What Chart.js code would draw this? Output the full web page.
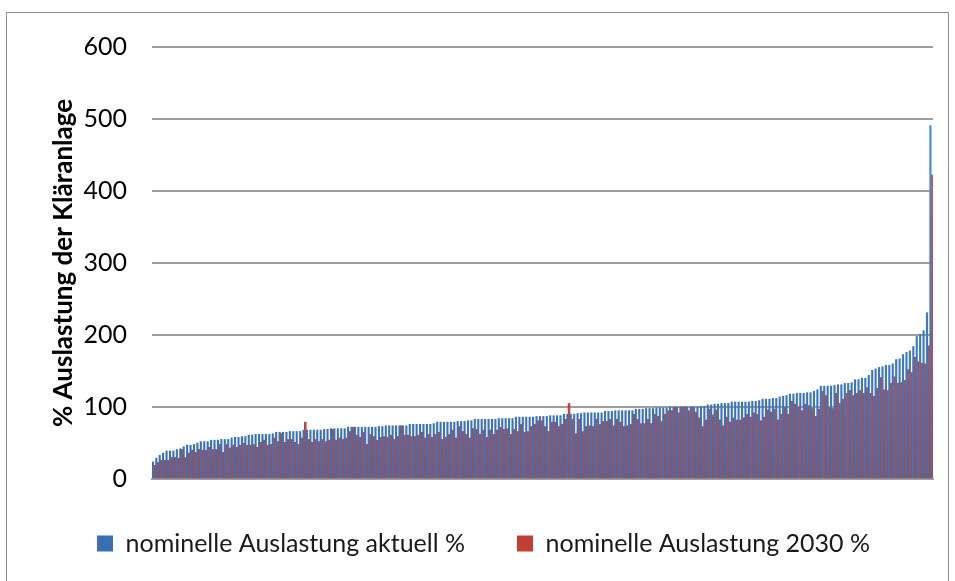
<!DOCTYPE html>
<html>
<head>
<meta charset="utf-8">
<title>Auslastung der Kläranlagen</title>
<script src="https://cdn.jsdelivr.net/npm/chart.js@4.4.1/dist/chart.umd.min.js"></script>
<style>
  html, body { margin: 0; padding: 0; background: #ffffff; }
  #wrap { width: 955px; height: 581px; }
</style>
</head>
<body>
<div id="wrap"><canvas id="auslastung" width="955" height="581"></canvas></div>
<script>
// nominelle Auslastung je Kläranlage, aufsteigend nach aktueller Auslastung sortiert
var auslastungAktuell = [
  24, 29, 33, 36, 39, 39, 39, 41, 42, 45, 47, 47, 48, 50, 52, 52, 52, 54, 54, 54,
  55, 55, 55, 57, 58, 58, 59, 59, 61, 61, 62, 62, 62, 62, 62, 63, 65, 65,
  65, 65, 66, 66, 66, 66, 68, 68, 68, 68, 68, 68, 69, 69, 70, 70, 70, 70, 70, 72,
  72, 72, 72, 72, 72, 72, 72, 72, 73, 73, 74, 74, 74, 74, 74, 74, 74, 76,
  76, 76, 76, 76, 76, 76, 77, 79, 79, 79, 79, 79, 79, 80, 80, 80, 81, 81, 83, 83,
  83, 83, 83, 83, 83, 84, 84, 84, 84, 84, 86, 86, 86, 86, 86, 86, 87,
  87, 87, 87, 88, 88, 88, 88, 90, 90, 90, 90, 91, 91, 92, 92, 92, 92, 92, 92, 94,
  94, 94, 95, 95, 95, 95, 95, 95, 97, 97, 97, 98, 98, 98, 99, 99, 99, 99,
  100, 100, 100, 100, 100, 100, 100, 100, 100, 101, 101, 103, 103, 104, 104, 105, 105, 105, 107, 107,
  107, 107, 107, 107, 108, 108, 109, 111, 111, 111, 112, 112, 114, 115, 116, 118, 118, 119,
  119, 119, 120, 120, 122, 124, 129, 129, 129, 129, 130, 131, 131, 133, 133, 134, 138, 138, 140, 140,
  144, 151, 153, 155, 156, 158, 158, 160, 166, 167, 173, 176, 178, 184, 198, 201, 206, 231, 491
];

var auslastung2030 = [
  19, 23, 26, 26, 26, 30, 30, 29, 41, 30, 36, 40, 37, 41, 40, 40, 44, 41, 41, 48,
  37, 48, 43, 47, 44, 47, 50, 47, 47, 48, 44, 51, 54, 47, 48, 57, 52, 63,
  51, 55, 55, 51, 48, 57, 79, 55, 51, 55, 52, 55, 52, 54, 69, 54, 57, 55, 57, 66,
  72, 61, 58, 65, 48, 62, 59, 54, 58, 59, 58, 61, 55, 59, 74, 61, 61, 59,
  59, 61, 65, 57, 62, 58, 62, 65, 55, 58, 62, 68, 57, 73, 66, 62, 57, 70, 69, 62,
  68, 58, 68, 62, 68, 72, 69, 70, 62, 69, 66, 76, 65, 66, 73, 76, 81,
  81, 73, 66, 79, 79, 73, 76, 83, 105, 83, 63, 83, 66, 73, 74, 73, 83, 76, 80, 80,
  83, 74, 83, 79, 73, 74, 76, 90, 83, 77, 77, 83, 77, 90, 87, 80, 90, 95,
  95, 100, 92, 100, 100, 95, 100, 93, 85, 73, 82, 97, 89, 96, 82, 74, 86, 79, 85, 82,
  82, 85, 90, 86, 92, 90, 81, 86, 96, 93, 97, 82, 90, 100, 90, 108, 104, 100,
  95, 104, 102, 98, 87, 97, 122, 116, 100, 98, 119, 105, 111, 119, 123, 116, 119, 123, 119, 127,
  119, 115, 126, 141, 124, 123, 133, 142, 133, 134, 137, 152, 148, 169, 163, 161, 160, 185, 422
];

var anlagen = auslastungAktuell.map(function (v, i) { return 'KA ' + (i + 1); });

var yTicks = [0, 100, 200, 300, 400, 500, 600];

var serienNamen = ['nominelle Auslastung aktuell %', 'nominelle Auslastung 2030 %'];

Chart.defaults.font.family = 'Lato';
Chart.defaults.color = '#000000';

// senkrechter Verlauf wie bei den Office-Balken
function verlauf(oben, unten) {
  return function (context) {
    var area = context.chart.chartArea;
    if (!area) {
      return unten;
    }
    var g = context.chart.ctx.createLinearGradient(0, area.top, 0, area.bottom);
    g.addColorStop(0, oben);
    g.addColorStop(1, unten);
    return g;
  };
}

// weißer Hintergrund und grauer Rahmen ums Diagramm (unten offen, läuft über den Rand)
var rahmen = {
  id: 'rahmen',
  beforeDraw: function (chart) {
    var ctx = chart.ctx;
    ctx.save();
    ctx.fillStyle = '#ffffff';
    ctx.fillRect(0, 0, chart.width, chart.height);
    ctx.strokeStyle = '#8e8e8e';
    ctx.lineWidth = 1;
    ctx.strokeRect(6.5, 12.5, 942, 590);
    ctx.restore();
  }
};

var ctx = document.getElementById('auslastung');
var myChart = new Chart(ctx, {
  type: 'bar',
  data: {
    labels: anlagen,
    datasets: [
      {
        label: serienNamen[0],
        data: auslastungAktuell,
        backgroundColor: verlauf('#4a90db', '#3a6fb3'),
        borderWidth: 0,
        inflateAmount: 0.3,
        categoryPercentage: 1.0,
        barPercentage: 0.9
      },
      {
        label: serienNamen[1],
        data: auslastung2030,
        backgroundColor: verlauf('#e2594c', '#c23f35'),
        borderWidth: 0,
        inflateAmount: 0.3,
        categoryPercentage: 1.0,
        barPercentage: 1.15
      }
    ]
  },
  options: {
    responsive: false,
    animation: false,
    layout: {
      padding: { left: 34, right: 22, top: 47, bottom: 15 }
    },
    plugins: {
      tooltip: { enabled: false },
      legend: {
        position: 'bottom',
        labels: {
          font: { size: 25 },
          color: '#1a1a1a',
          boxWidth: 16,
          boxHeight: 16,
          padding: 52
        }
      }
    },
    scales: {
      x: {
        ticks: { display: false },
        grid: { display: false, drawTicks: false },
        border: { display: true, color: '#a0a0a0', width: 2 }
      },
      y: {
        min: 0,
        max: 600,
        afterBuildTicks: function (scale) {
          scale.ticks = yTicks.map(function (v) { return { value: v }; });
        },
        afterFit: function (scale) {
          scale.width = 118;
        },
        ticks: {
          font: { size: 25 },
          color: '#000000',
          padding: 25
        },
        grid: {
          color: '#9f9f9f',
          lineWidth: 2,
          drawTicks: false
        },
        border: { display: false },
        title: {
          display: true,
          text: '% Auslastung der Kläranlage',
          font: { size: 26, weight: 'bold' },
          color: '#000000',
          padding: { top: 14, bottom: 0 }
        }
      }
    }
  },
  plugins: [rahmen]
});
</script>
</body>
</html>
